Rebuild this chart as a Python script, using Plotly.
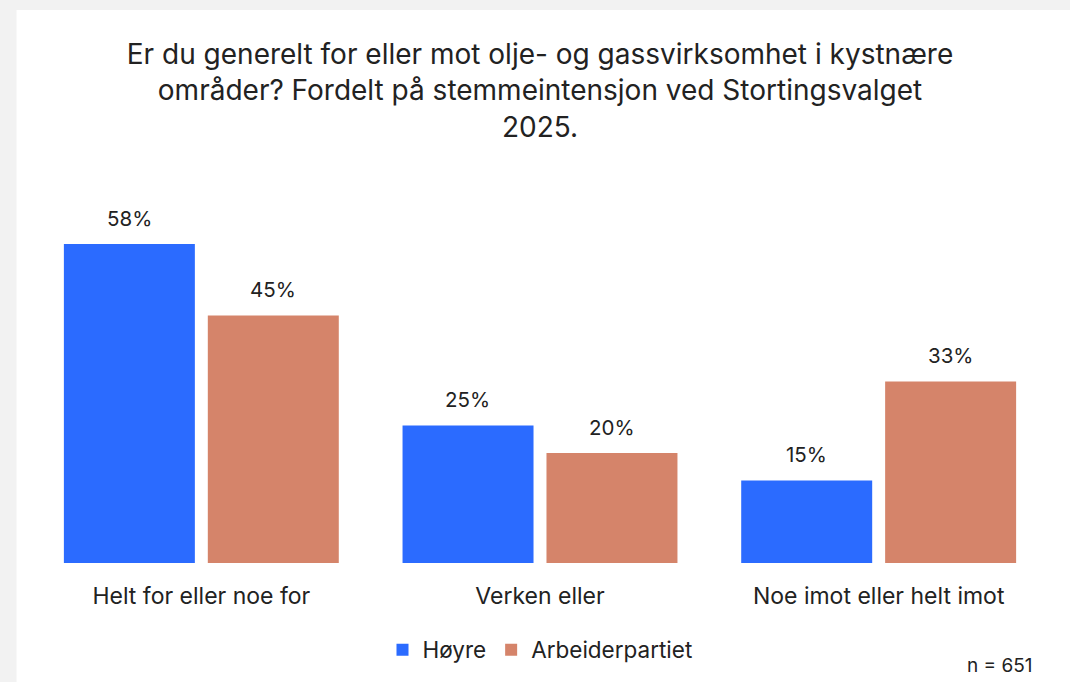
import plotly.graph_objects as go

categories = ["Helt for eller noe for", "Verken eller", "Noe imot eller helt imot"]
hoyre = [58, 25, 15]
arbeiderpartiet = [45, 20, 33]
series_names = ["Høyre", "Arbeiderpartiet"]
colors = ["#2B6BFF", "#D5846A"]

title_text = ("Er du generelt for eller mot olje- og gassvirksomhet i kystnære<br>"
              "områder? Fordelt på stemmeintensjon ved Stortingsvalget<br>2025.")

FONT = "Inter, 'DejaVu Sans', sans-serif"
TXT = "#222222"

W, H = 1070, 682
ml, mr, mt, mb = 31.5, 21.5, 233, 119
pw, ph = W - ml - mr, H - mt - mb
bargap, bargroupgap = 0.15, 0.09
slot = pw / len(categories) * (1 - bargap) / 2

fig = go.Figure()
for i, (name, vals, col) in enumerate(zip(series_names, [hoyre, arbeiderpartiet], colors)):
    fig.add_trace(go.Bar(
        x=categories, y=vals, name=name, marker=dict(color=col, line=dict(width=0)),
        hoverinfo="skip",
    ))
    for c, v in zip(categories, vals):
        fig.add_annotation(x=c, y=v, text=f"{v}%", showarrow=False,
                           xshift=(i - 0.5) * slot, yshift=26,
                           xanchor="center", yanchor="middle",
                           font=dict(size=20.5, color=TXT, family=FONT))

# card background (white) over light gray page
fig.add_shape(type="rect", xref="paper", yref="paper",
              x0=(16 - ml) / pw, x1=(W + 20 - ml) / pw,
              y0=-2, y1=(H - 10 - mb) / ph,
              fillcolor="white", line=dict(width=0), layer="below")

fig.add_annotation(text="n = 651", xref="paper", yref="paper",
                   x=(1000 - ml) / pw, y=-(665 - (mt + ph)) / ph,
                   xanchor="center", yanchor="middle", showarrow=False,
                   font=dict(size=19, color=TXT, family=FONT))

fig.update_layout(
    width=W, height=H,
    margin=dict(l=ml, r=mr, t=mt, b=mb, autoexpand=False),
    paper_bgcolor="#F2F2F2", plot_bgcolor="rgba(0,0,0,0)",
    title=dict(text=title_text, x=0.5, xanchor="center", xref="paper",
               y=1 - 64 / H, yanchor="middle",
               font=dict(size=28, color=TXT, family=FONT)),
    barmode="group", bargap=bargap, bargroupgap=bargroupgap,
    font=dict(family=FONT, color=TXT),
    xaxis=dict(showgrid=False, showline=False, zeroline=False, ticks="",
               tickfont=dict(size=23, color=TXT, family=FONT), ticklabelstandoff=17),
    yaxis=dict(range=[0, 60], visible=False),
    legend=dict(orientation="h", x=0.5, xanchor="center",
                y=-(650 - (mt + ph)) / ph, yanchor="middle",
                font=dict(size=22.5, color=TXT, family=FONT),
                itemwidth=30, traceorder="normal", bgcolor="rgba(0,0,0,0)"),
    showlegend=True,
)

fig.write_html("out.html", config={"displayModeBar": False},
               post_script="document.body.style.margin='0';document.body.style.overflow='hidden';")
